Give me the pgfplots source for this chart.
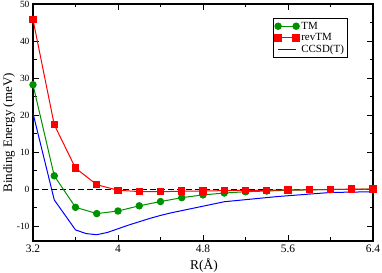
\documentclass[border=0pt]{standalone}
\usepackage{pgfplots}
\pgfplotsset{compat=1.18}
\usepackage{fontspec}
\setmainfont{Liberation Serif}
\definecolor{tmgreen}{RGB}{0,145,0}
\definecolor{rtmred}{RGB}{255,0,0}
\definecolor{ccblue}{RGB}{0,0,255}
\begin{document}
\begin{tikzpicture}
\begin{axis}[
  scale only axis,
  width=340bp, height=237bp,
  xmin=3.2, xmax=6.4, ymin=-14, ymax=50,
  xtick={3.2,4,4.8,5.6,6.4},
  ytick={-10,0,10,20,30,40,50},
  minor x tick num=1, minor y tick num=1,
  tick align=inside,
  major tick length=6bp, minor tick length=3.5bp,
  every tick/.style={black, line width=0.9bp},
  axis line style={line width=1.2bp},
  /pgf/number format/assume math mode=true,
  xticklabel style={font=\fontsize{11.5}{12}\selectfont},
  yticklabel style={font=\fontsize{9.5}{10}\selectfont},
  xlabel={R(Å)},
  ylabel={Binding Energy (meV)},
  xlabel style={font=\fontsize{13.5}{14}\selectfont, at={(axis description cs:0.503,-0.101)}, anchor=center},
  ylabel style={font=\fontsize{13}{14}\selectfont, at={(axis description cs:-0.0706,0.456)}, anchor=center},
  legend style={at={(axis description cs:0.926,0.941)}, anchor=north east, draw=black, line width=0.8bp,
    font=\fontsize{11}{12.5}\selectfont, inner sep=1.5bp, row sep=-1bp},
  legend cell align=left,
  legend image code/.code={\draw[mark repeat=1,#1] plot coordinates {(0bp,0bp) (18bp,0bp)};},
]
\addplot[black, line width=1bp, dash pattern=on 6bp off 3bp, forget plot] coordinates {(3.2,0) (6.4,0)};
\addplot[tmgreen, line width=1bp, mark=*, mark size=3.2bp, mark options={solid, fill=tmgreen}] coordinates {
(3.2,28.2) (3.4,3.6) (3.6,-4.9) (3.8,-6.6) (4.0,-5.9) (4.2,-4.5) (4.4,-3.35) (4.6,-2.3) (4.8,-1.55) (5.0,-1.05) (5.2,-0.7) (5.4,-0.5) (5.6,-0.3) (5.8,-0.2) (6.0,-0.1) (6.2,-0.05) (6.4,0)};
\addlegendentry{TM}
\addplot[rtmred, line width=1bp, mark=square*, mark size=3.2bp, mark options={solid, fill=rtmred}] coordinates {
(3.2,45.8) (3.4,17.4) (3.6,5.7) (3.8,1.2) (4.0,-0.3) (4.2,-0.65) (4.4,-0.7) (4.6,-0.55) (4.8,-0.5) (5.0,-0.4) (5.2,-0.3) (5.4,-0.3) (5.6,-0.2) (5.8,-0.15) (6.0,-0.1) (6.2,0) (6.4,0)};
\addlegendentry{revTM}
\addplot[ccblue, line width=1bp] coordinates {
(3.2,20.5) (3.4,-2.9) (3.6,-11.0) (3.7,-12.0) (3.8,-12.3) (3.9,-11.7) (4.0,-10.7) (4.1,-9.7) (4.2,-8.8) (4.3,-7.9) (4.4,-7.1) (4.5,-6.4) (4.6,-5.8) (4.7,-5.2) (4.8,-4.6) (4.9,-4.0) (5.0,-3.4) (5.5,-2.0) (6.0,-0.9) (6.4,-0.7)};
\addlegendentry{CCSD(T)}
\end{axis}
\pgfresetboundingbox
\path[use as bounding box] ([shift={(-33bp,-32bp)}]current axis.south west) rectangle ([shift={(9bp,4bp)}]current axis.north east);
\end{tikzpicture}
\end{document}
